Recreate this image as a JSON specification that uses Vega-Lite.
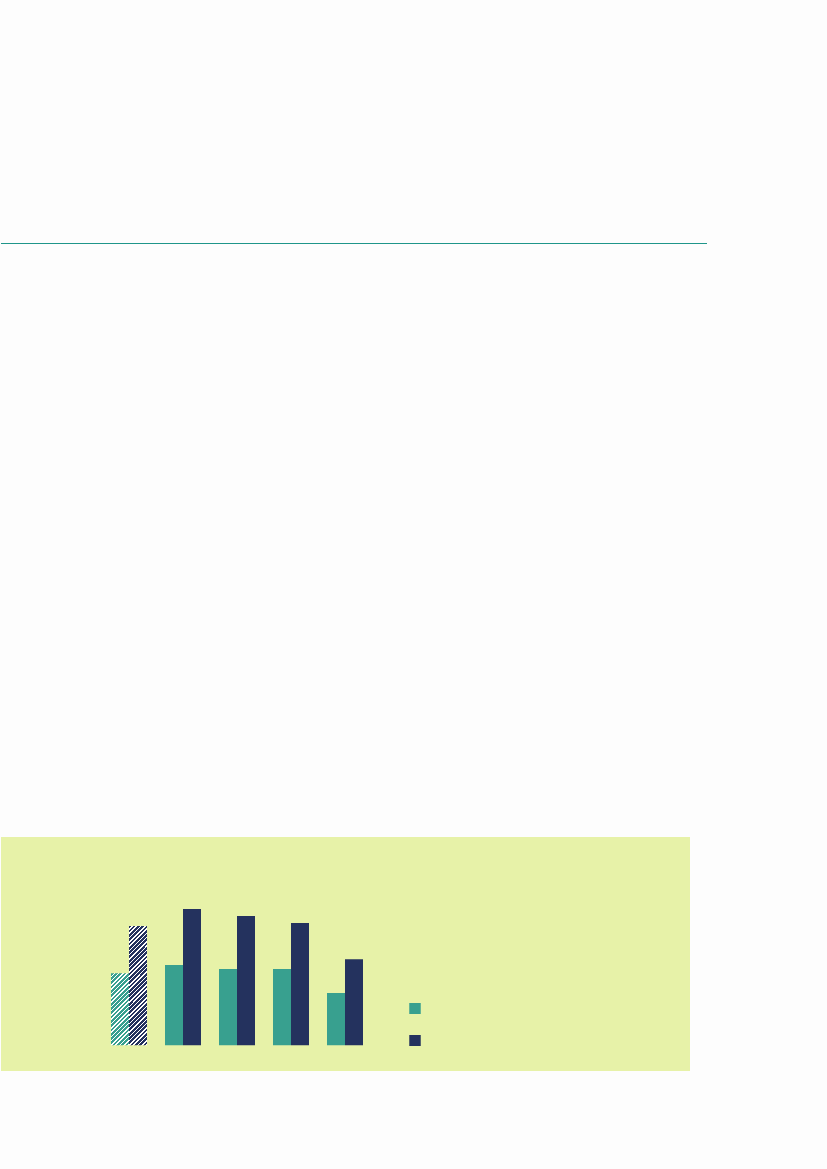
{
  "$schema": "https://vega.github.io/schema/vega-lite/v6.json",
  "description": "Page header rule and a grouped bar chart in a green panel",
  "background": "#fdfdfd",
  "padding": {"left": 0, "top": 0, "right": 121, "bottom": 98},
  "bounds": "flush",
  "spacing": 594,
  "config": {"view": {"stroke": null}},
  "datasets": {
    "bars": [
      {"group": "G1", "series": "A", "value": 36.0},
      {"group": "G1", "series": "B", "value": 59.7},
      {"group": "G2", "series": "A", "value": 40.2},
      {"group": "G2", "series": "B", "value": 68.2},
      {"group": "G3", "series": "A", "value": 38.2},
      {"group": "G3", "series": "B", "value": 64.7},
      {"group": "G4", "series": "A", "value": 38.2},
      {"group": "G4", "series": "B", "value": 61.2},
      {"group": "G5", "series": "A", "value": 26.2},
      {"group": "G5", "series": "B", "value": 43.0}
    ]
  },
  "vconcat": [
    {
      "width": 706,
      "height": 243,
      "data": {"values": [{"y": 0}]},
      "mark": {"type": "rule", "color": "#1f968a", "strokeWidth": 1, "yOffset": 0.5},
      "encoding": {
        "y": {"field": "y", "type": "quantitative", "scale": {"domain": [0, 1]}, "axis": null}
      }
    },
    {
      "width": 689,
      "height": 234,
      "view": {"fill": "#e7f2a8", "stroke": null},
      "data": {"name": "bars"},
      "encoding": {
        "x": {
          "field": "group",
          "type": "nominal",
          "scale": {"domain": ["G1", "G2", "G3", "G4", "G5"], "range": [110, 362], "paddingInner": 0.3333, "paddingOuter": 0, "round": false},
          "axis": null
        },
        "xOffset": {"field": "series", "type": "nominal", "scale": {"domain": ["A", "B"], "paddingInner": 0, "paddingOuter": 0}},
        "y": {
          "field": "value",
          "type": "quantitative",
          "scale": {"domain": [-12.85, 104.15], "nice": false, "zero": false},
          "axis": null
        }
      },
      "layer": [
        {
          "transform": [{"filter": "datum.group !== 'G1'"}],
          "mark": {"type": "bar"},
          "encoding": {
            "color": {
              "field": "series",
              "type": "nominal",
              "scale": {"domain": ["A", "B"], "range": ["#38a08f", "#24325e"]},
              "legend": {
                "orient": "none",
                "legendX": 408,
                "legendY": 1003,
                "title": null,
                "padding": 0,
                "symbolType": "square",
                "symbolSize": 132,
                "symbolStrokeWidth": 0,
                "clipHeight": 11,
                "rowPadding": 21,
                "labelExpr": "''"
              }
            }
          }
        },
        {
          "transform": [{"filter": "datum.group === 'G1' && datum.series === 'A'"}],
          "mark": {
            "type": "bar",
            "fill": {
              "gradient": "linear", "x1": 0, "y1": 0, "x2": 0.2941, "y2": 1.1765,
              "stops": [
                {"offset": 0, "color": "#38a08f"}, {"offset": 0.031, "color": "#38a08f"}, {"offset": 0.031, "color": "#ffffff"}, {"offset": 0.0476, "color": "#ffffff"},
                {"offset": 0.0476, "color": "#38a08f"}, {"offset": 0.0786, "color": "#38a08f"}, {"offset": 0.0786, "color": "#ffffff"}, {"offset": 0.0952, "color": "#ffffff"},
                {"offset": 0.0952, "color": "#38a08f"}, {"offset": 0.1262, "color": "#38a08f"}, {"offset": 0.1262, "color": "#ffffff"}, {"offset": 0.1429, "color": "#ffffff"},
                {"offset": 0.1429, "color": "#38a08f"}, {"offset": 0.1738, "color": "#38a08f"}, {"offset": 0.1738, "color": "#ffffff"}, {"offset": 0.1905, "color": "#ffffff"},
                {"offset": 0.1905, "color": "#38a08f"}, {"offset": 0.2214, "color": "#38a08f"}, {"offset": 0.2214, "color": "#ffffff"}, {"offset": 0.2381, "color": "#ffffff"},
                {"offset": 0.2381, "color": "#38a08f"}, {"offset": 0.269, "color": "#38a08f"}, {"offset": 0.269, "color": "#ffffff"}, {"offset": 0.2857, "color": "#ffffff"},
                {"offset": 0.2857, "color": "#38a08f"}, {"offset": 0.3167, "color": "#38a08f"}, {"offset": 0.3167, "color": "#ffffff"}, {"offset": 0.3333, "color": "#ffffff"},
                {"offset": 0.3333, "color": "#38a08f"}, {"offset": 0.3643, "color": "#38a08f"}, {"offset": 0.3643, "color": "#ffffff"}, {"offset": 0.381, "color": "#ffffff"},
                {"offset": 0.381, "color": "#38a08f"}, {"offset": 0.4119, "color": "#38a08f"}, {"offset": 0.4119, "color": "#ffffff"}, {"offset": 0.4286, "color": "#ffffff"},
                {"offset": 0.4286, "color": "#38a08f"}, {"offset": 0.4595, "color": "#38a08f"}, {"offset": 0.4595, "color": "#ffffff"}, {"offset": 0.4762, "color": "#ffffff"},
                {"offset": 0.4762, "color": "#38a08f"}, {"offset": 0.5071, "color": "#38a08f"}, {"offset": 0.5071, "color": "#ffffff"}, {"offset": 0.5238, "color": "#ffffff"},
                {"offset": 0.5238, "color": "#38a08f"}, {"offset": 0.5548, "color": "#38a08f"}, {"offset": 0.5548, "color": "#ffffff"}, {"offset": 0.5714, "color": "#ffffff"},
                {"offset": 0.5714, "color": "#38a08f"}, {"offset": 0.6024, "color": "#38a08f"}, {"offset": 0.6024, "color": "#ffffff"}, {"offset": 0.619, "color": "#ffffff"},
                {"offset": 0.619, "color": "#38a08f"}, {"offset": 0.65, "color": "#38a08f"}, {"offset": 0.65, "color": "#ffffff"}, {"offset": 0.6667, "color": "#ffffff"},
                {"offset": 0.6667, "color": "#38a08f"}, {"offset": 0.6976, "color": "#38a08f"}, {"offset": 0.6976, "color": "#ffffff"}, {"offset": 0.7143, "color": "#ffffff"},
                {"offset": 0.7143, "color": "#38a08f"}, {"offset": 0.7452, "color": "#38a08f"}, {"offset": 0.7452, "color": "#ffffff"}, {"offset": 0.7619, "color": "#ffffff"},
                {"offset": 0.7619, "color": "#38a08f"}, {"offset": 0.7929, "color": "#38a08f"}, {"offset": 0.7929, "color": "#ffffff"}, {"offset": 0.8095, "color": "#ffffff"},
                {"offset": 0.8095, "color": "#38a08f"}, {"offset": 0.8405, "color": "#38a08f"}, {"offset": 0.8405, "color": "#ffffff"}, {"offset": 0.8571, "color": "#ffffff"},
                {"offset": 0.8571, "color": "#38a08f"}, {"offset": 0.8881, "color": "#38a08f"}, {"offset": 0.8881, "color": "#ffffff"}, {"offset": 0.9048, "color": "#ffffff"},
                {"offset": 0.9048, "color": "#38a08f"}, {"offset": 0.9357, "color": "#38a08f"}, {"offset": 0.9357, "color": "#ffffff"}, {"offset": 0.9524, "color": "#ffffff"},
                {"offset": 0.9524, "color": "#38a08f"}, {"offset": 0.9833, "color": "#38a08f"}, {"offset": 0.9833, "color": "#ffffff"}, {"offset": 1, "color": "#ffffff"}
              ]
            }
          }
        },
        {
          "transform": [{"filter": "datum.group === 'G1' && datum.series === 'B'"}],
          "mark": {
            "type": "bar",
            "fill": {
              "gradient": "linear", "x1": 0, "y1": 0, "x2": 0.1703, "y2": 1.1255,
              "stops": [
                {"offset": 0, "color": "#24325e"}, {"offset": 0.0203, "color": "#24325e"}, {"offset": 0.0203, "color": "#ffffff"}, {"offset": 0.03125, "color": "#ffffff"},
                {"offset": 0.03125, "color": "#24325e"}, {"offset": 0.0516, "color": "#24325e"}, {"offset": 0.0516, "color": "#ffffff"}, {"offset": 0.0625, "color": "#ffffff"},
                {"offset": 0.0625, "color": "#24325e"}, {"offset": 0.0828, "color": "#24325e"}, {"offset": 0.0828, "color": "#ffffff"}, {"offset": 0.09375, "color": "#ffffff"},
                {"offset": 0.09375, "color": "#24325e"}, {"offset": 0.1141, "color": "#24325e"}, {"offset": 0.1141, "color": "#ffffff"}, {"offset": 0.125, "color": "#ffffff"},
                {"offset": 0.125, "color": "#24325e"}, {"offset": 0.1453, "color": "#24325e"}, {"offset": 0.1453, "color": "#ffffff"}, {"offset": 0.15625, "color": "#ffffff"},
                {"offset": 0.15625, "color": "#24325e"}, {"offset": 0.1766, "color": "#24325e"}, {"offset": 0.1766, "color": "#ffffff"}, {"offset": 0.1875, "color": "#ffffff"},
                {"offset": 0.1875, "color": "#24325e"}, {"offset": 0.2078, "color": "#24325e"}, {"offset": 0.2078, "color": "#ffffff"}, {"offset": 0.21875, "color": "#ffffff"},
                {"offset": 0.21875, "color": "#24325e"}, {"offset": 0.2391, "color": "#24325e"}, {"offset": 0.2391, "color": "#ffffff"}, {"offset": 0.25, "color": "#ffffff"},
                {"offset": 0.25, "color": "#24325e"}, {"offset": 0.2703, "color": "#24325e"}, {"offset": 0.2703, "color": "#ffffff"}, {"offset": 0.28125, "color": "#ffffff"},
                {"offset": 0.28125, "color": "#24325e"}, {"offset": 0.3016, "color": "#24325e"}, {"offset": 0.3016, "color": "#ffffff"}, {"offset": 0.3125, "color": "#ffffff"},
                {"offset": 0.3125, "color": "#24325e"}, {"offset": 0.3328, "color": "#24325e"}, {"offset": 0.3328, "color": "#ffffff"}, {"offset": 0.34375, "color": "#ffffff"},
                {"offset": 0.34375, "color": "#24325e"}, {"offset": 0.3641, "color": "#24325e"}, {"offset": 0.3641, "color": "#ffffff"}, {"offset": 0.375, "color": "#ffffff"},
                {"offset": 0.375, "color": "#24325e"}, {"offset": 0.3953, "color": "#24325e"}, {"offset": 0.3953, "color": "#ffffff"}, {"offset": 0.40625, "color": "#ffffff"},
                {"offset": 0.40625, "color": "#24325e"}, {"offset": 0.4266, "color": "#24325e"}, {"offset": 0.4266, "color": "#ffffff"}, {"offset": 0.4375, "color": "#ffffff"},
                {"offset": 0.4375, "color": "#24325e"}, {"offset": 0.4578, "color": "#24325e"}, {"offset": 0.4578, "color": "#ffffff"}, {"offset": 0.46875, "color": "#ffffff"},
                {"offset": 0.46875, "color": "#24325e"}, {"offset": 0.4891, "color": "#24325e"}, {"offset": 0.4891, "color": "#ffffff"}, {"offset": 0.5, "color": "#ffffff"},
                {"offset": 0.5, "color": "#24325e"}, {"offset": 0.5203, "color": "#24325e"}, {"offset": 0.5203, "color": "#ffffff"}, {"offset": 0.53125, "color": "#ffffff"},
                {"offset": 0.53125, "color": "#24325e"}, {"offset": 0.5516, "color": "#24325e"}, {"offset": 0.5516, "color": "#ffffff"}, {"offset": 0.5625, "color": "#ffffff"},
                {"offset": 0.5625, "color": "#24325e"}, {"offset": 0.5828, "color": "#24325e"}, {"offset": 0.5828, "color": "#ffffff"}, {"offset": 0.59375, "color": "#ffffff"},
                {"offset": 0.59375, "color": "#24325e"}, {"offset": 0.6141, "color": "#24325e"}, {"offset": 0.6141, "color": "#ffffff"}, {"offset": 0.625, "color": "#ffffff"},
                {"offset": 0.625, "color": "#24325e"}, {"offset": 0.6453, "color": "#24325e"}, {"offset": 0.6453, "color": "#ffffff"}, {"offset": 0.65625, "color": "#ffffff"},
                {"offset": 0.65625, "color": "#24325e"}, {"offset": 0.6766, "color": "#24325e"}, {"offset": 0.6766, "color": "#ffffff"}, {"offset": 0.6875, "color": "#ffffff"},
                {"offset": 0.6875, "color": "#24325e"}, {"offset": 0.7078, "color": "#24325e"}, {"offset": 0.7078, "color": "#ffffff"}, {"offset": 0.71875, "color": "#ffffff"},
                {"offset": 0.71875, "color": "#24325e"}, {"offset": 0.7391, "color": "#24325e"}, {"offset": 0.7391, "color": "#ffffff"}, {"offset": 0.75, "color": "#ffffff"},
                {"offset": 0.75, "color": "#24325e"}, {"offset": 0.7703, "color": "#24325e"}, {"offset": 0.7703, "color": "#ffffff"}, {"offset": 0.78125, "color": "#ffffff"},
                {"offset": 0.78125, "color": "#24325e"}, {"offset": 0.8016, "color": "#24325e"}, {"offset": 0.8016, "color": "#ffffff"}, {"offset": 0.8125, "color": "#ffffff"},
                {"offset": 0.8125, "color": "#24325e"}, {"offset": 0.8328, "color": "#24325e"}, {"offset": 0.8328, "color": "#ffffff"}, {"offset": 0.84375, "color": "#ffffff"},
                {"offset": 0.84375, "color": "#24325e"}, {"offset": 0.8641, "color": "#24325e"}, {"offset": 0.8641, "color": "#ffffff"}, {"offset": 0.875, "color": "#ffffff"},
                {"offset": 0.875, "color": "#24325e"}, {"offset": 0.8953, "color": "#24325e"}, {"offset": 0.8953, "color": "#ffffff"}, {"offset": 0.90625, "color": "#ffffff"},
                {"offset": 0.90625, "color": "#24325e"}, {"offset": 0.9266, "color": "#24325e"}, {"offset": 0.9266, "color": "#ffffff"}, {"offset": 0.9375, "color": "#ffffff"},
                {"offset": 0.9375, "color": "#24325e"}, {"offset": 0.9578, "color": "#24325e"}, {"offset": 0.9578, "color": "#ffffff"}, {"offset": 0.96875, "color": "#ffffff"},
                {"offset": 0.96875, "color": "#24325e"}, {"offset": 0.9891, "color": "#24325e"}, {"offset": 0.9891, "color": "#ffffff"}, {"offset": 1, "color": "#ffffff"}
              ]
            }
          }
        }
      ]
    }
  ]
}
